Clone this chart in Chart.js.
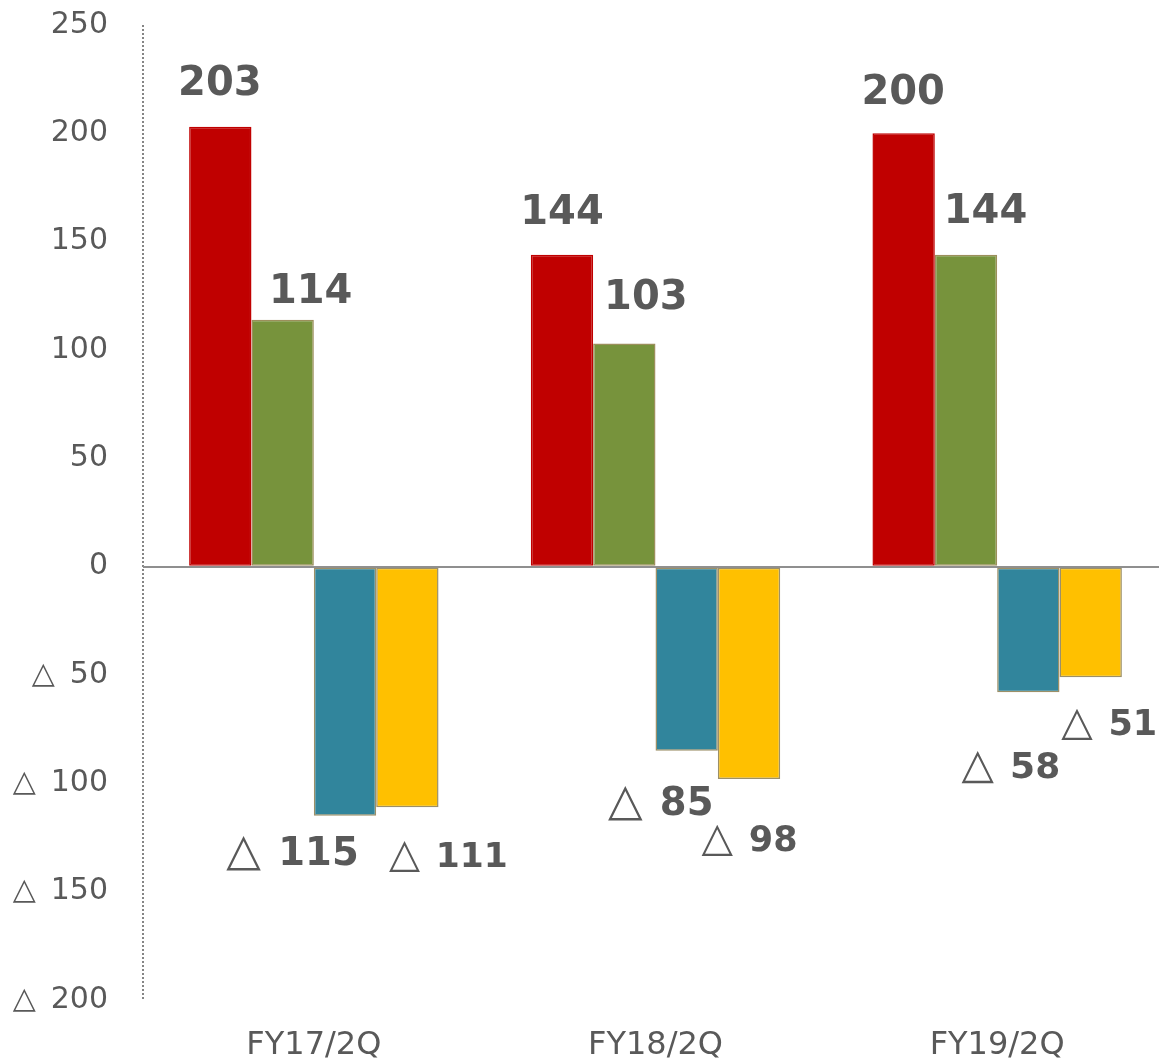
<!DOCTYPE html>
<html>
<head>
<meta charset="utf-8">
<script src="https://cdn.jsdelivr.net/npm/chart.js@4"></script>
<style>
  html, body { margin: 0; padding: 0; background: #fff; overflow: hidden; }
</style>
</head>
<body>
<canvas id="myChart" width="1168" height="1062"></canvas>
<script>
// values
const categories = ['FY17/2Q', 'FY18/2Q', 'FY19/2Q'];
const redValues = [203, 144, 200];
const greenValues = [114, 103, 144];
const tealValues = [-115, -85, -58];
const yellowValues = [-111, -98, -51];
const yTicks = [-200, -150, -100, -50, 0, 50, 100, 150, 200, 250];

// where each value label sits relative to the end of its bar
const labelStyle = [
  [{ dx: -0.5, dy: -46, size: 40 }, { dx: 0, dy: -45, size: 40 }, { dx: -0.5, dy: -44, size: 40 }],
  [{ dx: 28, dy: -31.5, size: 40 }, { dx: 21.5, dy: -49.5, size: 40 }, { dx: 19.5, dy: -46.5, size: 40 }],
  [{ dx: -52.5, dy: 35, size: 38.5 }, { dx: -26, dy: 50, size: 38.5 }, { dx: -17.5, dy: 73, size: 36 }],
  [{ dx: 41, dy: 47.5, size: 34.5 }, { dx: 0.5, dy: 59, size: 35 }, { dx: 18.5, dy: 45.5, size: 35 }]
];

const FONT = '"DejaVu Sans", Verdana, sans-serif';
const textColor = '#595959';

const valueLabels = {
  id: 'valueLabels',
  afterDatasetsDraw(chart) {
    const ctx = chart.ctx;
    chart.data.datasets.forEach((ds, i) => {
      const meta = chart.getDatasetMeta(i);
      meta.data.forEach((bar, j) => {
        const v = ds.data[j];
        const st = labelStyle[i][j];
        const edge = v >= 0 ? Math.min(bar.y, bar.base) : Math.max(bar.y, bar.base);
        const cx = bar.x + st.dx;
        const cy = edge + st.dy;
        const num = String(Math.abs(v));
        const boldFont = 'bold ' + st.size + 'px ' + FONT;
        const triFont = (st.size * 1.17) + 'px ' + FONT;

        ctx.save();
        ctx.fillStyle = textColor;
        ctx.textAlign = 'left';
        ctx.textBaseline = 'alphabetic';
        let wPre = 0;
        if (v < 0) {
          ctx.font = triFont;
          wPre = ctx.measureText('△').width + st.size * 0.45;
        }
        ctx.font = boldFont;
        const wNum = ctx.measureText(num).width;
        const x0 = cx - (wPre + wNum) / 2;
        const yb = cy + st.size * 0.364;
        if (v < 0) {
          ctx.font = triFont;
          ctx.fillText('△', x0, yb);
        }
        ctx.font = boldFont;
        ctx.fillText(num, x0 + wPre, yb);
        ctx.restore();
      });
    });
  }
};

const barDefaults = {
  borderWidth: 1.5,
  borderSkipped: false,
  barPercentage: 1.0,
  categoryPercentage: 0.73
};

const ctx = document.getElementById('myChart');
const myChart = new Chart(ctx, {
  type: 'bar',
  data: {
    labels: categories,
    datasets: [
      Object.assign({ data: redValues, backgroundColor: '#C00000', borderColor: '#C00000' }, barDefaults),
      Object.assign({ data: greenValues, backgroundColor: '#77933C', borderColor: '#9C8F5C' }, barDefaults),
      Object.assign({ data: tealValues, backgroundColor: '#31859C', borderColor: '#9C9068' }, barDefaults),
      Object.assign({ data: yellowValues, backgroundColor: '#FFC000', borderColor: '#9C9068' }, barDefaults)
    ]
  },
  options: {
    responsive: false,
    animation: false,
    layout: { padding: { top: 25, left: 0, right: 0, bottom: 0 } },
    plugins: {
      legend: { display: false },
      tooltip: { enabled: false }
    },
    scales: {
      x: {
        afterFit: s => { s.height = 62; },
        // only the left-most boundary line is shown: the dotted value axis
        grid: {
          display: true,
          drawTicks: false,
          lineWidth: 2,
          color: c => (c.index === 0 ? '#858585' : 'rgba(0,0,0,0)')
        },
        border: { display: false, dash: [2, 2] },
        ticks: { padding: 26, color: textColor, font: { family: FONT, size: 32 } }
      },
      y: {
        min: -200,
        max: 250,
        afterBuildTicks: s => { s.ticks = yTicks.map(v => ({ value: v })); },
        afterFit: s => { s.width = 143; s.paddingTop = 0; s.paddingBottom = 0; },
        grid: {
          drawTicks: false,
          lineWidth: 2,
          color: c => (c.tick && c.tick.value === 0 ? '#8f8f8f' : 'rgba(0,0,0,0)')
        },
        border: { display: false },
        ticks: {
          padding: 35,
          color: textColor,
          font: { family: FONT, size: 30 },
          callback: v => (v < 0 ? '△\u2002' + Math.abs(v) : String(v))
        }
      }
    }
  },
  plugins: [valueLabels]
});
</script>
</body>
</html>
